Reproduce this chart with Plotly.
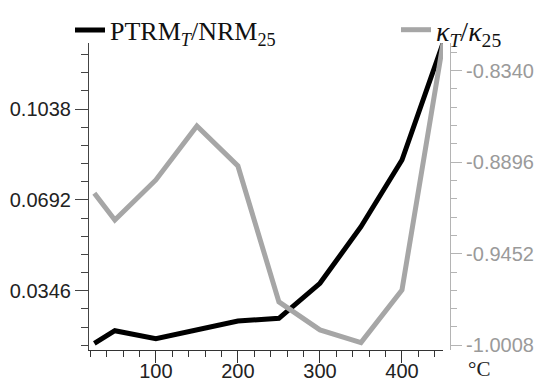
import plotly.graph_objects as go

# ---- data ----
temperature_c = [25, 50, 100, 150, 200, 250, 300, 350, 400, 450]
ptrm_over_nrm = [0.01455, 0.01936, 0.01631, 0.01962, 0.02305, 0.02408,
                 0.03742, 0.05899, 0.08441, 0.12888]
kappa_ratio = [-0.9085, -0.9247, -0.9004, -0.8676, -0.8919, -0.9745,
               -0.9915, -0.9992, -0.9672, -0.8174]

x_tickvals = [100, 200, 300, 400]
x_ticktext = ["100", "200", "300", "400"]
left_tickvals = [0.0346, 0.0692, 0.1038]
left_ticktext = ["0.0346", "0.0692", "0.1038"]
right_tickvals = [-1.0008, -0.9452, -0.8896, -0.8340]
right_ticktext = ["-1.0008", "-0.9452", "-0.8896", "-0.8340"]

BLACK = "#000000"
GRAY = "#a6a6a6"
W, H = 549, 383
L, R, T, B = 89, 99, 43, 33
plot_w = W - L - R
plot_h = H - T - B
x_end_px = 443

fig = go.Figure()
fig.add_trace(go.Scatter(
    x=temperature_c, y=ptrm_over_nrm, mode="lines",
    name="PTRM<sub><i>T</i></sub>/NRM<sub>25</sub>",
    line=dict(color=BLACK, width=5), legend="legend", showlegend=True,
    xaxis="x", yaxis="y"))
fig.add_trace(go.Scatter(
    x=temperature_c, y=kappa_ratio, mode="lines",
    name="<i>κ</i><sub><i>T</i></sub>/<i>κ</i><sub>25</sub>",
    line=dict(color=GRAY, width=5), legend="legend2", showlegend=True,
    xaxis="x", yaxis="y2"))

tickfont = dict(family="Liberation Sans, Arial, sans-serif", size=20)
legfont = dict(family="Liberation Serif, DejaVu Serif, serif", size=26, color="#111111")
legfont2 = dict(family="Liberation Serif, DejaVu Serif, serif", size=28, color="#111111")

fig.update_layout(
    width=W, height=H, showlegend=True,
    margin=dict(l=L, r=R, t=T, b=B, pad=0, autoexpand=False),
    paper_bgcolor="white", plot_bgcolor="white",
    xaxis=dict(
        domain=[0, (x_end_px - L) / plot_w],
        range=[18.5, 450], showgrid=False, zeroline=False,
        showline=True, linecolor="#333333", linewidth=1.2,
        tickmode="array", tickvals=x_tickvals, ticktext=x_ticktext,
        ticks="outside", ticklen=12, tickcolor="#333333", tickwidth=1,
        ticklabelstandoff=-9,
        minor=dict(tickmode="linear", tick0=0, dtick=20, ticks="outside",
                   ticklen=6, tickcolor="#333333", tickwidth=1),
        tickfont=dict(tickfont, color="#222222"),
        anchor="y",
    ),
    yaxis=dict(
        range=[0.0120, 0.1290], showgrid=False, zeroline=False,
        showline=True, linecolor="#444444", linewidth=1.2,
        tickmode="array", tickvals=left_tickvals, ticktext=left_ticktext,
        ticks="outside", ticklen=13, tickcolor="#444444", tickwidth=1,
        minor=dict(tickmode="linear", tick0=0.0346, dtick=0.00692,
                   ticks="outside", ticklen=7, tickcolor="#444444", tickwidth=1),
        tickfont=dict(tickfont, color="#222222"),
        anchor="x",
    ),
    yaxis2=dict(
        range=[-1.0037, -0.8172], overlaying="y", side="right",
        anchor="free", position=1, showgrid=False, zeroline=False,
        showline=True, linecolor="#b4b4b4", linewidth=1.2,
        tickmode="array", tickvals=right_tickvals, ticktext=right_ticktext,
        ticks="outside", ticklen=11, tickcolor="#b4b4b4", tickwidth=1,
        minor=dict(tickmode="linear", tick0=-1.0008, dtick=0.01112,
                   ticks="outside", ticklen=6, tickcolor="#b4b4b4", tickwidth=1),
        tickfont=dict(tickfont, color="#9a9a9a"),
    ),
    legend=dict(
        x=(70 - L) / plot_w, y=(H - B - 30) / plot_h,
        xanchor="left", yanchor="middle", orientation="h",
        bgcolor="rgba(0,0,0,0)", borderwidth=0, font=legfont,
    ),
    legend2=dict(
        x=(396 - L) / plot_w, y=(H - B - 30) / plot_h,
        xanchor="left", yanchor="middle", orientation="h",
        bgcolor="rgba(0,0,0,0)", borderwidth=0, font=legfont2,
    ),
    annotations=[dict(
        text="°C", xref="paper", yref="paper",
        x=(479 - L) / plot_w, y=(H - B - 369) / plot_h,
        xanchor="center", yanchor="middle", showarrow=False,
        font=dict(family="Liberation Serif, DejaVu Serif, serif", size=21, color="#222222"),
    )],
)

fig.write_html(
    "out.html",
    config={"displayModeBar": False},
    post_script="document.body.style.margin='0';document.body.style.overflow='hidden';",
)
